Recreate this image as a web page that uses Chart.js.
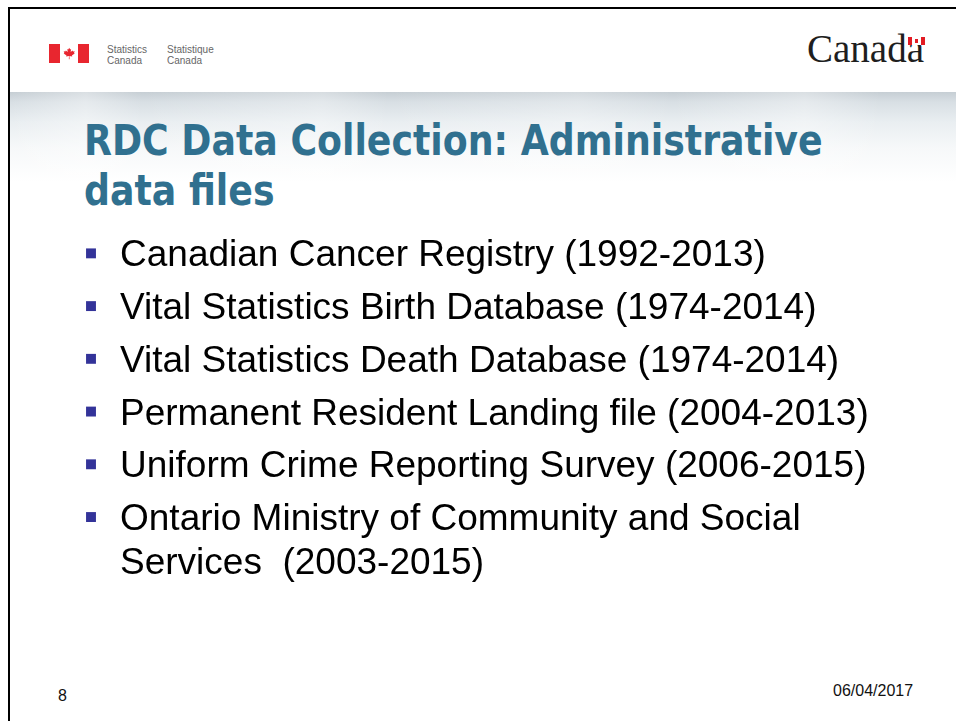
<!DOCTYPE html>
<html>
<head>
<meta charset="utf-8">
<title>RDC Data Collection: Administrative data files</title>
<script src="https://cdn.jsdelivr.net/npm/chart.js@4.4.1/dist/chart.umd.min.js"></script>
<style>
    html, body { margin: 0; padding: 0; background: #fff; }
    #slide { position: relative; width: 956px; height: 721px; overflow: hidden; background: #fff; }
    .frame-top { position: absolute; left: 8px; top: 7px; width: 948px; height: 2px; background: #000; }
    .frame-left { position: absolute; left: 8px; top: 7px; width: 2px; height: 714px; background: #000; }
    .banner {
        position: absolute; left: 10px; top: 92px; width: 946px; height: 90px;
        background:
            linear-gradient(to right, rgba(255,255,255,0) 0%, rgba(255,255,255,0.35) 8%, rgba(255,255,255,0) 14%,
                rgba(255,255,255,0.3) 33%, rgba(255,255,255,0) 40%, rgba(255,255,255,0.25) 60%,
                rgba(255,255,255,0) 70%, rgba(255,255,255,0.35) 84%, rgba(255,255,255,0) 92%),
            linear-gradient(to bottom, #c6ced4 0px, #d8dfe4 10px, #e9eef1 30px, #f6f8f9 55px, #ffffff 90px);
    }
    .flag { position: absolute; left: 49px; top: 44px; width: 40px; height: 19px; }
    .agency { position: absolute; top: 44px; font-family: "Liberation Sans", Arial, sans-serif;
        font-size: 10px; line-height: 11px; color: #666; }
    .wordmark { position: absolute; left: 807px; top: 27px; font-family: "Liberation Serif", "Times New Roman", serif;
        font-size: 39px; line-height: 44px; color: #1e1e1e; }
    .wordmark .last { position: relative; }
    .mini-flag { position: absolute; left: 1px; top: 10px; width: 17px; height: 8px;
        background: linear-gradient(to right, #e21b23 0 4px, #fff 4px 13px, #e21b23 13px 17px); }
    .mini-flag::after { content: ""; position: absolute; left: 7px; top: 2px; width: 3px; height: 4px; background: #e21b23; }
    h1 { position: absolute; left: 84px; top: 116px; margin: 0; white-space: nowrap;
        font-family: "DejaVu Sans", sans-serif; font-weight: bold;
        font-size: 42px; line-height: 50px; color: #30708f;
        transform: scaleX(0.864); transform-origin: left top; }
    #listWrap { position: absolute; left: 60px; top: 220px; width: 890px; height: 403.4px; }
    .foot { position: absolute; font-family: "Liberation Sans", Arial, sans-serif; font-size: 16px; color: #111; }
</style>
</head>
<body>
<div id="slide">
    <div class="banner"></div>
    <div class="frame-top"></div>
    <div class="frame-left"></div>

    <svg class="flag" viewBox="0 0 40 19">
        <rect x="0" y="0" width="11" height="19" fill="#e8262f"/>
        <rect x="29" y="0" width="11" height="19" fill="#e8262f"/>
        <path fill="#e8262f" transform="translate(14.2,3.2) scale(0.12)"
              d="M50,5 L58,20 L66,16 L62,40 L78,28 L82,36 L96,34 L90,48 L96,52 L72,70 L76,78 L52,74 L53,100 L47,100 L48,74 L24,78 L28,70 L4,52 L10,48 L4,34 L18,36 L22,28 L38,40 L34,16 L42,20 Z"/>
    </svg>
    <div class="agency" style="left:107px">Statistics<br>Canada</div>
    <div class="agency" style="left:167px">Statistique<br>Canada</div>
    <div class="wordmark">Canad<span class="last">a<span class="mini-flag"></span></span></div>

    <h1 id="title"></h1>

    <div id="listWrap"><canvas id="listChart"></canvas></div>

    <div class="foot" style="left:58px; top:687px">8</div>
    <div class="foot" style="left:833px; top:682px">06/04/2017</div>
</div>

<script>
    // slide content
    const titleLines = ['RDC Data Collection: Administrative', 'data files'];
    const datasetNames = [
        ['Canadian Cancer Registry (1992-2013)'],
        ['Vital Statistics Birth Database (1974-2014)'],
        ['Vital Statistics Death Database (1974-2014)'],
        ['Permanent Resident Landing file (2004-2013)'],
        ['Uniform Crime Reporting Survey (2006-2015)'],
        ['Ontario Ministry of Community and Social', 'Services  (2003-2015)']
    ];
    const bulletX = [0, 0, 0, 0, 0, 0]; // one bullet per entry, all in the same column

    document.getElementById('title').innerHTML = titleLines.join('<br>');

    const categories = datasetNames.map(lines => lines.join(' '));

    // draws each entry's text next to its bullet, using the y scale positions
    const entryText = {
        id: 'entryText',
        afterDatasetsDraw(chart) {
            const ctx = chart.ctx;
            const yScale = chart.scales.y;
            const xScale = chart.scales.x;
            ctx.save();
            ctx.font = '37px "Liberation Sans", Arial, sans-serif';
            ctx.fillStyle = '#000';
            ctx.textAlign = 'left';
            ctx.textBaseline = 'alphabetic';
            datasetNames.forEach((lines, i) => {
                const y = yScale.getPixelForTick(i);
                const x = xScale.getPixelForValue(bulletX[i]) + 29;
                lines.forEach((line, j) => {
                    ctx.fillText(line, x, y + 13 + j * 44);
                });
            });
            ctx.restore();
        }
    };

    new Chart(document.getElementById('listChart'), {
        type: 'scatter',
        data: {
            labels: categories,
            datasets: [{
                data: bulletX.map((x, i) => ({ x: x, y: categories[i] })),
                pointStyle: 'rect',
                pointRadius: 7,
                pointHoverRadius: 7,
                backgroundColor: '#333399',
                borderWidth: 0,
                clip: false
            }]
        },
        options: {
            responsive: true,
            maintainAspectRatio: false,
            animation: false,
            layout: { padding: { left: 31, right: 0, top: 0, bottom: 80 } },
            scales: {
                x: { type: 'linear', min: 0, max: 1, display: false },
                y: { type: 'category', labels: categories, offset: true, display: false }
            },
            plugins: {
                legend: { display: false },
                tooltip: { enabled: false }
            }
        },
        plugins: [entryText]
    });
</script>
</body>
</html>
